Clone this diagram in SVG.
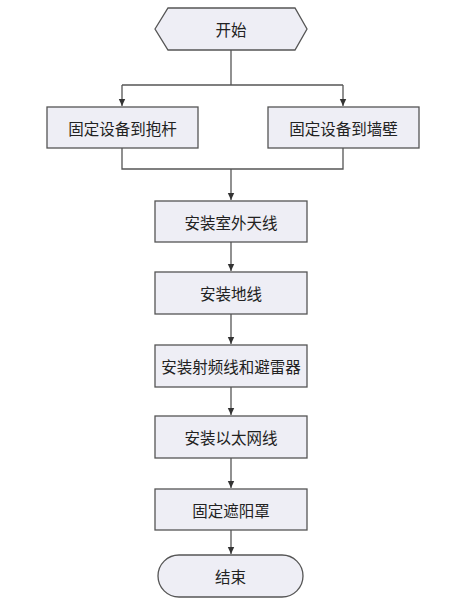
<svg xmlns="http://www.w3.org/2000/svg" width="467" height="606" viewBox="0 0 467 606">
<defs>
<marker id="arr" markerWidth="8" markerHeight="8" refX="7" refY="4" orient="auto" markerUnits="userSpaceOnUse">
<path d="M0,0.8 L7,4 L0,7.2 Z" fill="#333"/>
</marker>
<style>
.n{fill:#EEEEF5;stroke:#555;stroke-width:1.3}
.t{font-family:"Noto Sans CJK SC","Noto Sans",sans-serif;font-size:15.5px;fill:#222;text-anchor:middle;dominant-baseline:central}
.c{fill:none;stroke:#555;stroke-width:1.3}
</style>
</defs>
<rect width="467" height="606" fill="#fff"/>
<g id="connectors">
<polyline class="c" points="231,50 231,85"/>
<polyline class="c" points="122,85 343,85"/>
<polyline class="c" points="122,85 122,106" marker-end="url(#arr)"/>
<polyline class="c" points="343,85 343,106" marker-end="url(#arr)"/>
<polyline class="c" points="122,148 122,169 343,169 343,148"/>
<polyline class="c" points="231,169 231,200" marker-end="url(#arr)"/>
<polyline class="c" points="231,242 231,271" marker-end="url(#arr)"/>
<polyline class="c" points="231,314 231,344" marker-end="url(#arr)"/>
<polyline class="c" points="231,387 231,415" marker-end="url(#arr)"/>
<polyline class="c" points="231,458 231,488" marker-end="url(#arr)"/>
<polyline class="c" points="231,530 231,554" marker-end="url(#arr)"/>
</g>
<g id="start">
<polygon class="n" points="155,29 168,8 295,8 307,29 295,50 168,50"/>
<text class="t" x="231" y="29">开始</text>
</g>
<g id="pole">
<rect class="n" x="47" y="107" width="151" height="41"/>
<text class="t" x="122.5" y="127.5">固定设备到抱杆</text>
</g>
<g id="wall">
<rect class="n" x="268" y="107" width="151" height="41"/>
<text class="t" x="343.5" y="127.5">固定设备到墙壁</text>
</g>
<g id="antenna">
<rect class="n" x="155" y="201" width="152" height="41"/>
<text class="t" x="231" y="221.5">安装室外天线</text>
</g>
<g id="ground">
<rect class="n" x="155" y="272" width="152" height="42"/>
<text class="t" x="231" y="293">安装地线</text>
</g>
<g id="rf">
<rect class="n" x="155" y="345" width="152" height="42"/>
<text class="t" x="231" y="366">安装射频线和避雷器</text>
</g>
<g id="ethernet">
<rect class="n" x="155" y="416" width="152" height="42"/>
<text class="t" x="231" y="437">安装以太网线</text>
</g>
<g id="shade">
<rect class="n" x="155" y="489" width="152" height="41"/>
<text class="t" x="231" y="509.5">固定遮阳罩</text>
</g>
<g id="end">
<rect class="n" x="158" y="555" width="145" height="42" rx="21" ry="21"/>
<text class="t" x="230.5" y="576">结束</text>
</g>
</svg>
